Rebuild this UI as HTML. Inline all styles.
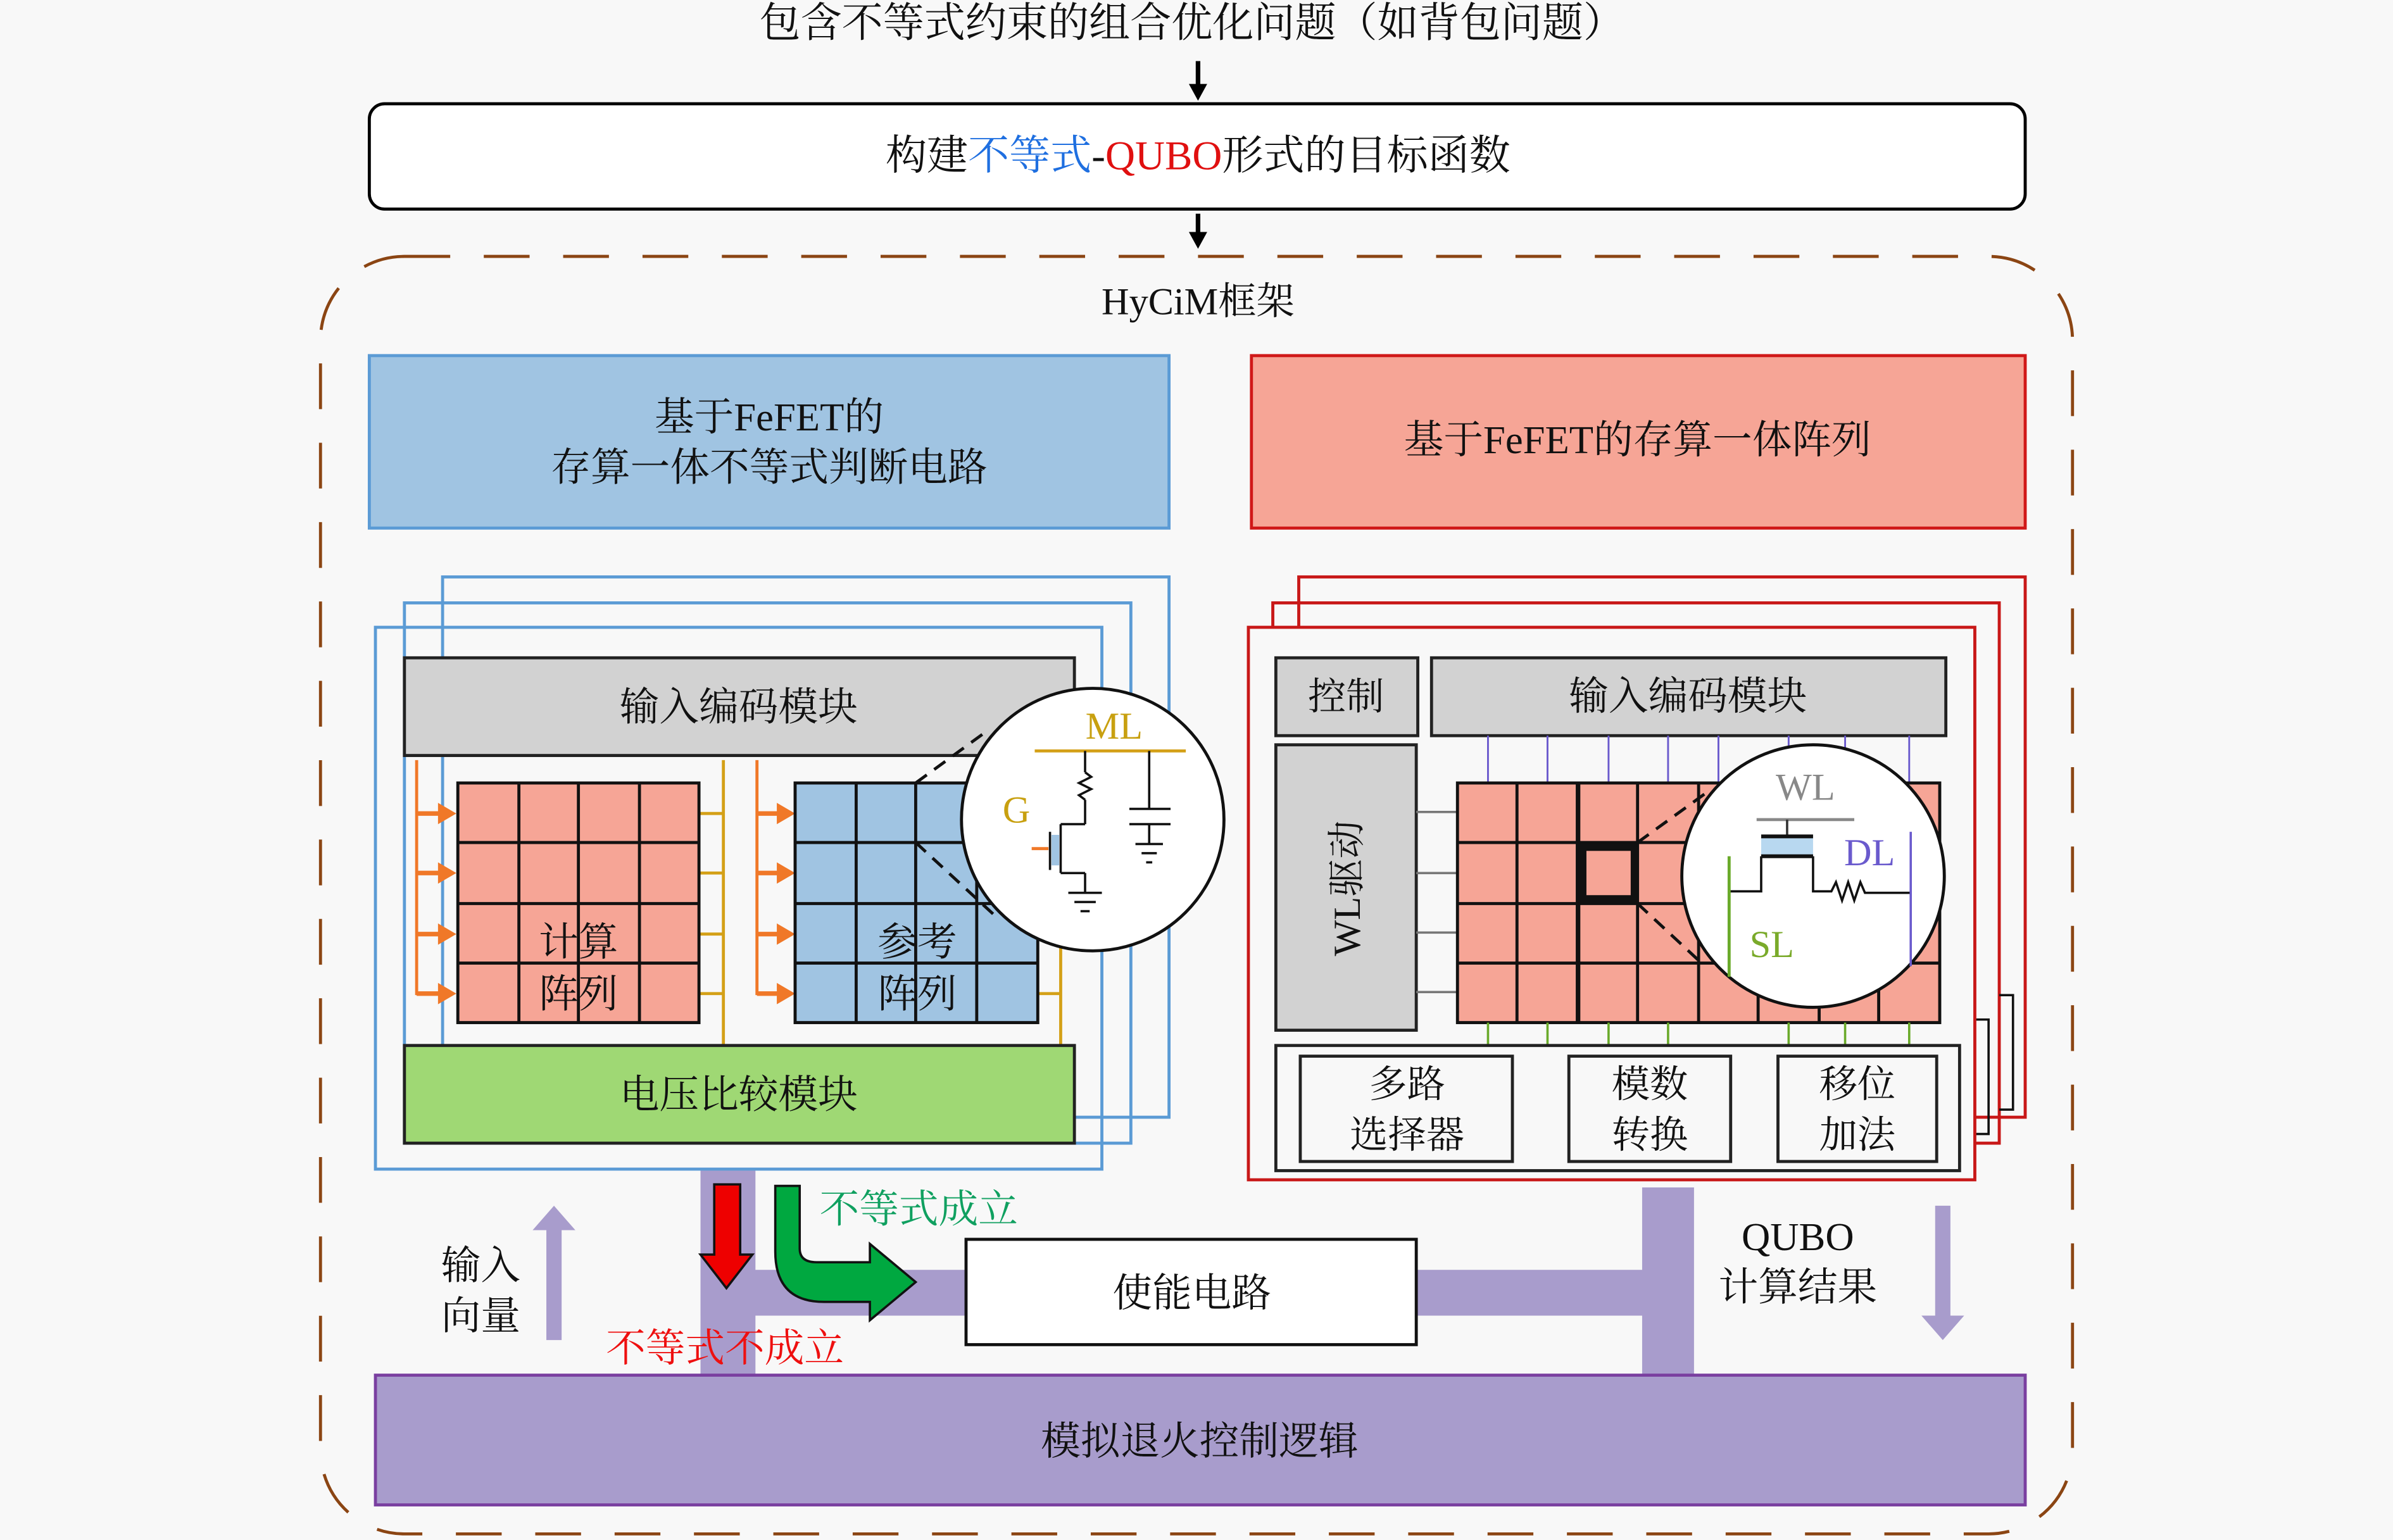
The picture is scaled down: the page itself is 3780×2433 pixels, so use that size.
<!DOCTYPE html>
<html><head><meta charset="utf-8"><style>
html,body{margin:0;padding:0;background:#f8f8f8;}
svg{display:block;}
text{font-family:"Liberation Serif","Noto Serif CJK SC",serif;}
</style></head><body>
<svg width="3780" height="2433" viewBox="0 0 1568 1009" preserveAspectRatio="none" xmlns="http://www.w3.org/2000/svg">
<rect width="1568" height="1009" fill="#f8f8f8"/>
<text x="781" y="24" font-size="27" text-anchor="middle" fill="#111">包含不等式约束的组合优化问题（如背包问题）</text>
<line x1="785" y1="40" x2="785" y2="58" stroke="#000" stroke-width="3"/>
<path d="M779,55 L791,55 L785,66z" fill="#000"/>
<rect x="242" y="68" width="1085" height="69" rx="10" fill="#fff" stroke="#000" stroke-width="2"/>
<text x="785" y="111" font-size="27" text-anchor="middle" fill="#111">构建<tspan fill="#1f6fe0">不等式</tspan>-<tspan fill="#e01010">QUBO</tspan>形式的目标函数</text>
<line x1="785" y1="140" x2="785" y2="155" stroke="#000" stroke-width="3"/>
<path d="M779,152 L791,152 L785,163z" fill="#000"/>
<rect x="210" y="168" width="1148" height="837" rx="55" fill="none" stroke="#8b4513" stroke-width="2" stroke-dasharray="30,22"/>
<text x="785" y="206" font-size="25" text-anchor="middle" fill="#111">HyCiM框架</text>

<rect x="242" y="233" width="524" height="113" fill="#a0c4e2" stroke="#5b9bd5" stroke-width="2"/>
<text x="504" y="282" font-size="26" text-anchor="middle" fill="#111">基于FeFET的</text>
<text x="504" y="315" font-size="26" text-anchor="middle" fill="#111">存算一体不等式判断电路</text>
<rect x="820" y="233" width="507" height="113" fill="#f6a596" stroke="#d01818" stroke-width="2"/>
<text x="1073" y="297" font-size="26" text-anchor="middle" fill="#111">基于FeFET的存算一体阵列</text>

<g fill="none" stroke="#5b9bd5" stroke-width="2">
<rect x="290" y="378" width="476" height="354"/>
<rect x="265" y="395" width="476" height="354"/>
<rect x="246" y="411" width="476" height="355"/>
</g>
<rect x="265" y="431" width="439" height="64" fill="#d2d2d2" stroke="#222" stroke-width="2"/>
<text x="484" y="472" font-size="26" text-anchor="middle" fill="#111">输入编码模块</text>
<g stroke="#f07828" stroke-width="2">
<line x1="273" y1="498" x2="273" y2="652"/>
<line x1="496" y1="498" x2="496" y2="652"/>
</g>
<g stroke="#f07828" stroke-width="3">
<line x1="273" y1="533" x2="290" y2="533"/><line x1="273" y1="572" x2="290" y2="572"/><line x1="273" y1="612" x2="290" y2="612"/><line x1="273" y1="651" x2="290" y2="651"/>
<line x1="496" y1="533" x2="512" y2="533"/><line x1="496" y1="572" x2="512" y2="572"/><line x1="496" y1="612" x2="512" y2="612"/><line x1="496" y1="651" x2="512" y2="651"/>
</g>
<g fill="#f07828">
<path d="M287,526 L299,533 L287,540z"/><path d="M287,565 L299,572 L287,579z"/><path d="M287,605 L299,612 L287,619z"/><path d="M287,644 L299,651 L287,658z"/>
<path d="M509,526 L521,533 L509,540z"/><path d="M509,565 L521,572 L509,579z"/><path d="M509,605 L521,612 L509,619z"/><path d="M509,644 L521,651 L509,658z"/>
</g>
<g stroke="#d4a017" stroke-width="2">
<line x1="474" y1="498" x2="474" y2="685"/>
<line x1="695" y1="620" x2="695" y2="685"/>
<line x1="458" y1="533" x2="474" y2="533"/><line x1="458" y1="572" x2="474" y2="572"/><line x1="458" y1="612" x2="474" y2="612"/><line x1="458" y1="651" x2="474" y2="651"/>
<line x1="680" y1="651" x2="695" y2="651"/>
</g>
<rect x="300" y="513" width="158" height="157" fill="#f6a596" stroke="#111" stroke-width="2"/>
<g stroke="#111" stroke-width="2">
<line x1="340" y1="513" x2="340" y2="670"/><line x1="379" y1="513" x2="379" y2="670"/><line x1="419" y1="513" x2="419" y2="670"/>
<line x1="300" y1="552" x2="458" y2="552"/><line x1="300" y1="592" x2="458" y2="592"/><line x1="300" y1="631" x2="458" y2="631"/>
</g>
<text x="379" y="626" font-size="26" text-anchor="middle" fill="#111">计算</text>
<text x="379" y="660" font-size="26" text-anchor="middle" fill="#111">阵列</text>
<rect x="521" y="513" width="159" height="157" fill="#a0c4e2" stroke="#111" stroke-width="2"/>
<g stroke="#111" stroke-width="2">
<line x1="561" y1="513" x2="561" y2="670"/><line x1="600" y1="513" x2="600" y2="670"/><line x1="640" y1="513" x2="640" y2="670"/>
<line x1="521" y1="552" x2="680" y2="552"/><line x1="521" y1="592" x2="680" y2="592"/><line x1="521" y1="631" x2="680" y2="631"/>
</g>
<text x="601" y="626" font-size="26" text-anchor="middle" fill="#111">参考</text>
<text x="601" y="660" font-size="26" text-anchor="middle" fill="#111">阵列</text>
<g stroke="#111" stroke-width="2" stroke-dasharray="9,6">
<line x1="600" y1="513" x2="648" y2="478"/><line x1="600" y1="552" x2="652" y2="600"/>
</g>
<circle cx="716" cy="537" r="86" fill="#fff" stroke="#111" stroke-width="2"/>
<text x="730" y="484" font-size="25" text-anchor="middle" fill="#c8a010">ML</text>
<line x1="678" y1="492" x2="777" y2="492" stroke="#d4a017" stroke-width="2"/>
<text x="666" y="539" font-size="25" text-anchor="middle" fill="#c8a010">G</text>
<g stroke="#111" stroke-width="1.5" fill="none">
<line x1="711" y1="492" x2="711" y2="506"/>
<path d="M711,506 l4,3 -8,4 8,4 -8,4 4,3"/>
<line x1="711" y1="524" x2="711" y2="540"/>
<line x1="695" y1="540" x2="711" y2="540"/>
<line x1="695" y1="540" x2="695" y2="572"/>
<line x1="688" y1="545" x2="688" y2="570"/>
<line x1="695" y1="572" x2="711" y2="572"/>
<line x1="711" y1="572" x2="711" y2="585"/>
<line x1="700" y1="585" x2="722" y2="585"/><line x1="704" y1="591" x2="718" y2="591"/><line x1="708" y1="597" x2="714" y2="597"/>
<line x1="753" y1="492" x2="753" y2="530"/>
<line x1="740" y1="530" x2="767" y2="530"/><line x1="740" y1="540" x2="767" y2="540"/>
<line x1="753" y1="540" x2="753" y2="553"/>
<line x1="744" y1="553" x2="762" y2="553"/><line x1="748" y1="559" x2="758" y2="559"/><line x1="751" y1="565" x2="755" y2="565"/>
</g>
<rect x="689" y="547" width="5" height="20" fill="#a0c4e2"/>
<line x1="676" y1="556" x2="687" y2="556" stroke="#f07828" stroke-width="2"/>

<rect x="265" y="685" width="439" height="64" fill="#9fd874" stroke="#222" stroke-width="2"/>
<text x="484" y="726" font-size="26" text-anchor="middle" fill="#111">电压比较模块</text>

<g fill="none" stroke="#c81818" stroke-width="2">
<rect x="851" y="378" width="476" height="354"/>
<rect x="834" y="395" width="476" height="354"/>
</g>
<g fill="none" stroke="#111" stroke-width="1.5">
<polyline points="1294,668 1303,668 1303,743 1294,743"/>
<polyline points="1310,652 1319,652 1319,727 1310,727"/>
</g>
<rect x="818" y="411" width="476" height="362" fill="#f8f8f8" stroke="#c81818" stroke-width="2"/>
<rect x="836" y="431" width="93" height="51" fill="#d2d2d2" stroke="#222" stroke-width="2"/>
<text x="882" y="465" font-size="25" text-anchor="middle" fill="#111">控制</text>
<rect x="938" y="431" width="337" height="51" fill="#d2d2d2" stroke="#222" stroke-width="2"/>
<text x="1106" y="465" font-size="26" text-anchor="middle" fill="#111">输入编码模块</text>
<rect x="836" y="488" width="92" height="187" fill="#d2d2d2" stroke="#222" stroke-width="2"/>
<text x="0" y="0" font-size="25" text-anchor="middle" fill="#111" transform="translate(891,582) rotate(-90)">WL驱动</text>
<g stroke="#6a5acd" stroke-width="1.2">
<line x1="975" y1="482" x2="975" y2="513"/><line x1="1014" y1="482" x2="1014" y2="513"/><line x1="1054" y1="482" x2="1054" y2="513"/><line x1="1093" y1="482" x2="1093" y2="513"/><line x1="1126" y1="482" x2="1126" y2="513"/><line x1="1172" y1="482" x2="1172" y2="513"/><line x1="1209" y1="482" x2="1209" y2="513"/><line x1="1251" y1="482" x2="1251" y2="513"/>
</g>
<g stroke="#777" stroke-width="1.5">
<line x1="928" y1="532" x2="955" y2="532"/><line x1="928" y1="572" x2="955" y2="572"/><line x1="928" y1="611" x2="955" y2="611"/><line x1="928" y1="650" x2="955" y2="650"/>
</g>
<rect x="955" y="513" width="316" height="157" fill="#f6a596" stroke="#111" stroke-width="2"/>
<g stroke="#111" stroke-width="2">
<line x1="994" y1="513" x2="994" y2="670"/><line x1="1034" y1="513" x2="1034" y2="670" stroke-width="3"/><line x1="1073" y1="513" x2="1073" y2="670"/><line x1="1113" y1="513" x2="1113" y2="670"/><line x1="1152" y1="513" x2="1152" y2="670"/><line x1="1192" y1="513" x2="1192" y2="670"/><line x1="1231" y1="513" x2="1231" y2="670"/>
<line x1="955" y1="552" x2="1271" y2="552"/><line x1="955" y1="592" x2="1271" y2="592"/><line x1="955" y1="631" x2="1271" y2="631"/>
</g>
<rect x="1037" y="555" width="34" height="34" fill="none" stroke="#111" stroke-width="5"/>
<g stroke="#6aaa2a" stroke-width="1.5">
<line x1="975" y1="670" x2="975" y2="685"/><line x1="1014" y1="670" x2="1014" y2="685"/><line x1="1054" y1="670" x2="1054" y2="685"/><line x1="1093" y1="670" x2="1093" y2="685"/><line x1="1172" y1="670" x2="1172" y2="685"/><line x1="1209" y1="670" x2="1209" y2="685"/><line x1="1251" y1="670" x2="1251" y2="685"/>
</g>
<g stroke="#111" stroke-width="2" stroke-dasharray="9,6">
<line x1="1073" y1="552" x2="1120" y2="518"/><line x1="1073" y1="592" x2="1116" y2="632"/>
</g>
<circle cx="1188" cy="574" r="86" fill="#fff" stroke="#111" stroke-width="2"/>
<text x="1183" y="524" font-size="25" text-anchor="middle" fill="#888">WL</text>
<line x1="1151" y1="537" x2="1215" y2="537" stroke="#888" stroke-width="2"/>
<line x1="1171" y1="537" x2="1171" y2="548" stroke="#333" stroke-width="1.5"/>
<rect x="1154" y="549" width="34" height="11" fill="#b8d8f0"/>
<line x1="1154" y1="548" x2="1188" y2="548" stroke="#111" stroke-width="2.5"/>
<line x1="1154" y1="561" x2="1188" y2="561" stroke="#111" stroke-width="2.5"/>
<polyline points="1133,584 1154,584 1154,561" fill="none" stroke="#111" stroke-width="1.5"/>
<polyline points="1188,561 1188,584 1200,584 1203,578 1207,590 1211,578 1215,590 1219,578 1222,585 1252,585" fill="none" stroke="#111" stroke-width="1.5"/>
<line x1="1133" y1="561" x2="1133" y2="640" stroke="#6aaa2a" stroke-width="2"/>
<line x1="1252" y1="545" x2="1252" y2="633" stroke="#6a5acd" stroke-width="1.5"/>
<text x="1225" y="567" font-size="25" text-anchor="middle" fill="#6a5acd">DL</text>
<text x="1161" y="627" font-size="25" text-anchor="middle" fill="#7aaa2a">SL</text>

<rect x="836" y="685" width="448" height="82" fill="#f8f8f8" stroke="#222" stroke-width="2"/>
<g fill="#f8f8f8" stroke="#222" stroke-width="2">
<rect x="852" y="692" width="139" height="69"/>
<rect x="1028" y="692" width="106" height="69"/>
<rect x="1165" y="692" width="104" height="69"/>
</g>
<g font-size="25" text-anchor="middle" fill="#111">
<text x="922" y="719">多路</text><text x="922" y="752">选择器</text>
<text x="1081" y="719">模数</text><text x="1081" y="752">转换</text>
<text x="1217" y="719">移位</text><text x="1217" y="752">加法</text>
</g>

<g fill="#a89ccc">
<rect x="459" y="767" width="36" height="134"/>
<rect x="459" y="832" width="175" height="30"/>
<rect x="928" y="832" width="150" height="30"/>
<rect x="1076" y="778" width="34" height="123"/>
</g>
<rect x="633" y="812" width="295" height="69" fill="#fff" stroke="#111" stroke-width="2"/>
<text x="781" y="856" font-size="26" text-anchor="middle" fill="#111">使能电路</text>
<path d="M468,776 L485,776 L485,822 L493,822 L476,844 L459,822 L468,822z" fill="#ee0000" stroke="#111" stroke-width="1.5"/>
<path d="M508,777 L524,777 L524,818 Q524,827 535,827 L570,827 L570,815 L600,840 L570,865 L570,853 L540,853 Q508,853 508,820z" fill="#00a840" stroke="#111" stroke-width="1.5"/>
<text x="602" y="801" font-size="26" text-anchor="middle" fill="#10a060">不等式成立</text>
<text x="475" y="892" font-size="26" text-anchor="middle" fill="#ee1010">不等式不成立</text>

<text x="315" y="838" font-size="26" text-anchor="middle" fill="#111">输入</text>
<text x="315" y="871" font-size="26" text-anchor="middle" fill="#111">向量</text>
<path d="M358,878 L368,878 L368,806 L377,806 L363,790 L349,806 L358,806z" fill="#a89ccc"/>
<text x="1178" y="819" font-size="26" text-anchor="middle" fill="#111">QUBO</text>
<text x="1178" y="852" font-size="26" text-anchor="middle" fill="#111">计算结果</text>
<path d="M1268,790 L1278,790 L1278,862 L1287,862 L1273,878 L1259,862 L1268,862z" fill="#a89ccc"/>

<rect x="246" y="901" width="1081" height="85" fill="#a89ccc" stroke="#7a3fa0" stroke-width="2"/>
<text x="786" y="953" font-size="26" text-anchor="middle" fill="#111">模拟退火控制逻辑</text>
</svg>
</body></html>
